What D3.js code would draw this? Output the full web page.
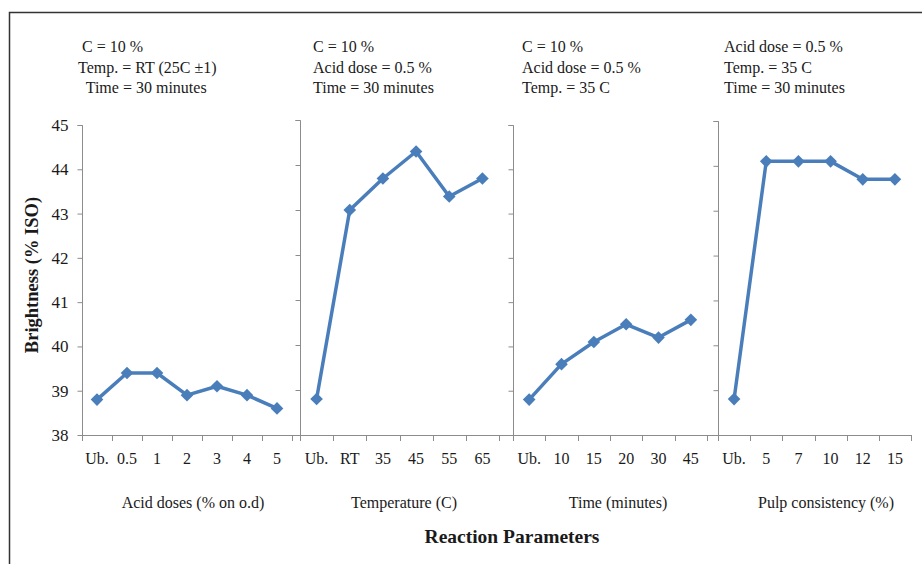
<!DOCTYPE html>
<html>
<head>
<meta charset="utf-8">
<script src="https://cdn.jsdelivr.net/npm/d3@7"></script>
<style>
  html, body { margin: 0; padding: 0; background: #fff; }
  svg { display: block; font-family: "Liberation Serif", "Times New Roman", serif; }
</style>
</head>
<body>
<svg id="chart" width="922" height="564"></svg>
<script>
// ---- data ----
const acidCats = ["Ub.", "0.5", "1", "2", "3", "4", "5"];
const acidValues = [38.8, 39.4, 39.4, 38.9, 39.1, 38.9, 38.6];
const tempCats = ["Ub.", "RT", "35", "45", "55", "65"];
const tempValues = [38.8, 43.0, 43.7, 44.3, 43.3, 43.7];
const timeCats = ["Ub.", "10", "15", "20", "30", "45"];
const timeValues = [38.8, 39.6, 40.1, 40.5, 40.2, 40.6];
const consCats = ["Ub.", "5", "7", "10", "12", "15"];
const consValues = [38.8, 44.1, 44.1, 44.1, 43.7, 43.7];
const yTicks = [38, 39, 40, 41, 42, 43, 44, 45];
const panelTitles = ["Acid doses (% on o.d)", "Temperature (C)", "Time (minutes)", "Pulp consistency (%)"];
const notes1 = ["C = 10 %", "Temp. = RT (25C \u00B11)", " Time = 30 minutes"];
const notes2 = ["C = 10 %", "Acid dose = 0.5 %", "Time = 30 minutes"];
const notes3 = ["C = 10 %", "Acid dose = 0.5 %", "Temp. = 35 C"];
const notes4 = ["Acid dose = 0.5 %", "Temp. = 35 C", "Time = 30 minutes"];
const yTitle = "Brightness (% ISO)";
const xTitle = "Reaction Parameters";

// ---- layout ----
const svg = d3.select("#chart");
const bottomY = 435;
const lineColor = "#4a7ebb";
const axisColor = "#8c8c8c";
const textColor = "#1a1a1a";

// outer frame
svg.append("path")
  .attr("d", "M9.5,564 L9.5,12.5 L922,12.5")
  .attr("fill", "none").attr("stroke", "#333").attr("stroke-width", 1.5);

const panels = [
  { cats: acidCats, values: acidValues, title: panelTitles[0], notes: notes1, x0: 82, x1: 292, top: 125, noteX: 82, noteDx: [0, -4, 0], titleX: 193, labels: true },
  { cats: tempCats, values: tempValues, title: panelTitles[1], notes: notes2, x0: 300, x1: 499, top: 120, noteX: 313, noteDx: [0, 0, 0], titleX: 404 },
  { cats: timeCats, values: timeValues, title: panelTitles[2], notes: notes3, x0: 513, x1: 707, top: 125, noteX: 522, noteDx: [0, 0, 0], titleX: 618 },
  { cats: consCats, values: consValues, title: panelTitles[3], notes: notes4, x0: 718, x1: 911, top: 121, noteX: 724, noteDx: [0, 0, 0], titleX: 826 }
];

// continuous x baseline
svg.append("line")
  .attr("x1", 82).attr("x2", 911).attr("y1", bottomY + 0.5).attr("y2", bottomY + 0.5)
  .attr("stroke", axisColor).attr("stroke-width", 1);

panels.forEach((p, i) => {
  const x = d3.scaleBand().domain(p.cats).range([p.x0, p.x1]).padding(0);
  const y = d3.scaleLinear().domain([38, 45]).range([bottomY, p.top]);
  const cx = c => x(c) + x.bandwidth() / 2;

  // y axis
  const yAxis = d3.axisLeft(y).tickValues(yTicks).tickSize(5).tickPadding(9).tickFormat(d3.format("d"));
  if (!p.labels) yAxis.tickFormat("");
  const gy = svg.append("g").attr("transform", `translate(${p.x0 + 0.5},0)`).call(yAxis);
  gy.select(".domain").attr("stroke", axisColor).attr("d", `M-5,${p.top + 0.5}H0V${bottomY + 0.5}`);
  gy.selectAll(".tick line").attr("stroke", axisColor);
  gy.selectAll(".tick text").attr("fill", textColor)
    .style("font-family", "Liberation Serif").style("font-size", "17px");

  // x tick marks at category boundaries
  const edges = p.cats.map(c => x(c)).concat([p.x1]);
  svg.append("g").selectAll("line").data(edges).join("line")
    .attr("x1", d => Math.round(d) + 0.5).attr("x2", d => Math.round(d) + 0.5)
    .attr("y1", bottomY).attr("y2", bottomY + 6)
    .attr("stroke", axisColor);

  // x category labels
  const xAxis = d3.axisBottom(x).tickSize(0).tickPadding(18);
  const gx = svg.append("g").attr("transform", `translate(0,${bottomY})`).call(xAxis);
  gx.select(".domain").remove();
  gx.selectAll(".tick text").attr("fill", textColor)
    .style("font-family", "Liberation Serif").style("font-size", "16px");

  // line
  const line = d3.line().x((d, k) => cx(p.cats[k])).y(d => y(d));
  svg.append("path").datum(p.values)
    .attr("d", line).attr("fill", "none")
    .attr("stroke", lineColor).attr("stroke-width", 3.5).attr("stroke-linejoin", "round");

  // diamond markers
  const sym = d3.symbol().type(d3.symbolSquare).size(80);
  svg.append("g").selectAll("path").data(p.values).join("path")
    .attr("d", sym)
    .attr("transform", (d, k) => `translate(${cx(p.cats[k])},${y(d)}) rotate(45)`)
    .attr("fill", lineColor);

  // panel title
  svg.append("text").attr("x", p.titleX).attr("y", 508)
    .attr("text-anchor", "middle").attr("fill", textColor)
    .style("font-size", "16px").text(p.title);

  // notes
  svg.append("g").selectAll("text").data(p.notes).join("text")
    .attr("x", (d, k) => p.noteX + p.noteDx[k]).attr("y", (d, k) => 52 + k * 20.7)
    .attr("fill", textColor).style("font-size", "16px")
    .attr("xml:space", "preserve").style("white-space", "pre")
    .text(d => d);
});

// y axis title
svg.append("text")
  .attr("transform", "translate(38,275) rotate(-90)")
  .attr("text-anchor", "middle").attr("fill", textColor)
  .style("font-size", "18.5px").style("font-weight", "bold")
  .text(yTitle);

// x axis title
svg.append("text")
  .attr("x", 512).attr("y", 543)
  .attr("text-anchor", "middle").attr("fill", textColor)
  .style("font-size", "19.5px").style("font-weight", "bold")
  .text(xTitle);
</script>
</body>
</html>
